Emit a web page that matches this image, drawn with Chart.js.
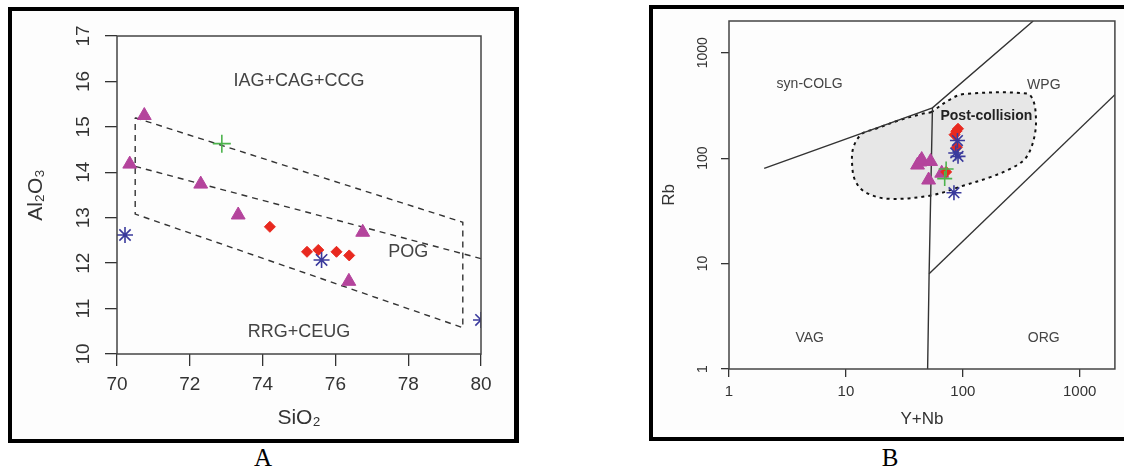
<!DOCTYPE html>
<html>
<head>
<meta charset="utf-8">
<script src="https://cdn.jsdelivr.net/npm/chart.js@4.4.1/dist/chart.umd.min.js"></script>
<style>
  html, body { margin: 0; padding: 0; background: #fff; overflow: hidden; }
  body { width: 1124px; height: 470px; position: relative; }
  .frame { position: absolute; box-sizing: border-box; border: 4px solid #000; background: #fdfdfd; }
  #frameA { left: 8px; top: 7px; width: 511px; height: 436px; border-right-width: 5px; }
  #frameB { left: 649px; top: 5px; width: 490px; height: 436px; }
  .wrap { position: absolute; }
  #wrapA { left: 12px; top: 11px; width: 500px; height: 428px; }
  #wrapB { left: 653px; top: 9px; width: 471px; height: 428px; }
  .caption { position: absolute; top: 444px; font-family: "Liberation Serif", "Times New Roman", serif; font-size: 25px; color: #000; width: 40px; text-align: center; }
</style>
</head>
<body>
<div class="frame" id="frameA"></div>
<div class="frame" id="frameB"></div>
<div class="wrap" id="wrapA"><canvas id="chartA"></canvas></div>
<div class="wrap" id="wrapB"><canvas id="chartB"></canvas></div>
<div class="caption" style="left:243px">A</div>
<div class="caption" style="left:870px">B</div>
<script>
// ---- Panel A: SiO2 vs Al2O3 ----
const xTicksA = [70, 72, 74, 76, 78, 80];
const yTicksA = [10, 11, 12, 13, 14, 15, 16, 17];
const trianglesA = [[70.75, 15.25], [70.35, 14.18], [72.3, 13.74], [73.33, 13.06], [76.75, 12.68], [76.37, 11.6]];
const diamondsA = [[74.2, 12.8], [75.22, 12.25], [75.53, 12.29], [76.03, 12.25], [76.38, 12.17]];
const asterisksA = [[70.22, 12.62], [75.62, 12.07], [80.0, 10.75]];
const plusA = [[72.88, 14.63]];
const pogBox = [[70.5, 15.2], [79.5, 12.9], [79.5, 10.58], [70.5, 13.08], [70.5, 15.2]];
const pogMid = [[70.5, 14.13], [80, 12.1]];
const labelsA = [
  ['IAG+CAG+CCG', 75, 16.0],
  ['POG', 78, 12.24],
  ['RRG+CEUG', 75, 10.48]
];

// ---- Panel B: Y+Nb vs Rb ----
const tickValuesB = [1, 10, 100, 1000];
const trianglesB = [[41, 86], [43, 92], [44.5, 97], [53, 93], [51, 62], [66, 72]];
const diamondsB = [[91, 190], [88, 180], [85, 167], [89, 127], [72, 74]];
const asterisksB = [[90, 147], [87, 112], [91, 104], [84, 47]];
const plusB = [[72, 79], [70, 64]];
const colgLine = [[2, 80], [55, 300], [400, 2000]];
const vagLine = [[55, 300], [51.5, 8], [50, 1]];
const orgLine = [[51.5, 8], [2000, 400]];
const postCollision = [
  [53.5, 272], [79, 364], [102, 406], [352, 411], [401, 351], [422, 244], [414, 170],
  [376, 118], [330, 95], [254, 79], [172, 66], [102, 55], [53.5, 44.3], [23, 41.2],
  [14.6, 47.6], [12, 61.4], [11.3, 88], [11.6, 127], [13.7, 170], [17.8, 189],
  [28, 227], [44, 262], [53.5, 272]
];
const labelsB = [
  ['syn-COLG', 4.9, 505, false],
  ['WPG', 493, 494, false],
  ['Post-collision', 159, 253, true],
  ['VAG', 4.9, 1.98, false],
  ['ORG', 493, 1.98, false]
];

Chart.defaults.font.family = '"Liberation Sans", Arial, sans-serif';
Chart.defaults.color = '#333';

const toXY = arr => arr.map(p => ({x: p[0], y: p[1]}));

const boxPlugin = {
  id: 'plotBox',
  afterDatasetsDraw(chart) {
    const {ctx, chartArea: a} = chart;
    ctx.save();
    ctx.strokeStyle = '#444';
    ctx.lineWidth = 1.5;
    ctx.strokeRect(a.left, a.top, a.right - a.left, a.bottom - a.top);
    ctx.restore();
  }
};

const regionLabels = {
  id: 'regionLabels',
  afterDatasetsDraw(chart, args, opts) {
    const {ctx, scales} = chart;
    ctx.save();
    ctx.textAlign = 'center';
    ctx.textBaseline = 'middle';
    for (const item of opts.items) {
      ctx.font = (item[3] ? 'bold ' : '') + opts.size + 'px "Liberation Sans", Arial, sans-serif';
      ctx.fillStyle = item[3] ? '#222' : '#444';
      ctx.fillText(item[0], scales.x.getPixelForValue(item[1]), scales.y.getPixelForValue(item[2]));
    }
    ctx.restore();
  }
};

function pointSet(data, style, color, radius, order) {
  const stroked = style === 'star' || style === 'cross';
  return {
    data: toXY(data),
    pointStyle: style,
    pointRadius: radius,
    pointBackgroundColor: color,
    pointBorderColor: color,
    pointBorderWidth: stroked ? 1.6 : 1,
    clip: 0,
    order: order
  };
}

function lineSet(data, opts) {
  return Object.assign({
    data: toXY(data),
    showLine: true,
    pointRadius: 0,
    borderColor: '#333',
    borderWidth: 1.4,
    fill: false,
    order: 5
  }, opts);
}

function axisOpts(fontSize, tickLen, pad) {
  return {
    grid: {display: true, drawOnChartArea: false, drawTicks: true, tickLength: tickLen, color: '#333', lineWidth: 1.3},
    border: {display: false},
    ticks: {font: {size: fontSize}, color: '#333', padding: pad, autoSkip: false}
  };
}

const MAGENTA = '#b4449c';
const RED = '#e8291f';
const BLUE = '#3a3a9c';
const GREEN = '#4db34d';

// Panel A chart
const xA = axisOpts(19, 12, 7);
Object.assign(xA, {
  type: 'linear', min: 70, max: 80,
  afterBuildTicks: s => { s.ticks = xTicksA.map(v => ({value: v})); },
  afterFit: s => { s.height = 85; },
  title: {display: true, text: 'SiO₂', font: {size: 21}, color: '#333', padding: {top: 0, bottom: 8}}
});
const yA = axisOpts(19, 12, 11);
Object.assign(yA.ticks, {minRotation: 90, maxRotation: 90, crossAlign: 'center'});
Object.assign(yA, {
  type: 'linear', min: 10, max: 17,
  afterBuildTicks: s => { s.ticks = yTicksA.map(v => ({value: v})); },
  afterFit: s => { s.width = 105; },
  title: {display: true, text: 'Al₂O₃', font: {size: 21}, color: '#333', padding: {top: 12, bottom: 0}}
});

new Chart(document.getElementById('chartA'), {
  type: 'scatter',
  data: {
    datasets: [
      pointSet(plusA, 'cross', GREEN, 9, 0),
      pointSet(asterisksA, 'star', BLUE, 8, 1),
      pointSet(diamondsA, 'rectRot', RED, 5.5, 2),
      pointSet(trianglesA, 'triangle', MAGENTA, 8, 3),
      lineSet(pogBox, {borderDash: [6, 5]}),
      lineSet(pogMid, {borderDash: [6, 5]})
    ]
  },
  options: {
    responsive: true,
    maintainAspectRatio: false,
    animation: false,
    layout: {padding: {top: 25, right: 31, left: 0, bottom: 0}},
    scales: {x: xA, y: yA},
    plugins: {
      legend: {display: false},
      tooltip: {enabled: false},
      regionLabels: {items: labelsA, size: 18}
    }
  },
  plugins: [boxPlugin, regionLabels]
});

// Panel B chart
const xB = axisOpts(15, 8, 6);
Object.assign(xB, {
  type: 'logarithmic', min: 1, max: 2000,
  afterBuildTicks: s => { s.ticks = tickValuesB.map(v => ({value: v})); },
  afterFit: s => { s.height = 68; },
  title: {display: true, text: 'Y+Nb', font: {size: 17}, color: '#333', padding: {top: 0, bottom: 7}}
});
xB.ticks.callback = v => String(v);
const yB = axisOpts(14, 8, 2);
Object.assign(yB.ticks, {minRotation: 90, maxRotation: 90, crossAlign: 'center', callback: v => String(v)});
Object.assign(yB, {
  type: 'logarithmic', min: 1, max: 2000,
  afterBuildTicks: s => { s.ticks = tickValuesB.map(v => ({value: v})); },
  afterFit: s => { s.width = 76; },
  title: {display: true, text: 'Rb', font: {size: 17}, color: '#333', padding: {top: 6, bottom: 0}}
});

new Chart(document.getElementById('chartB'), {
  type: 'scatter',
  data: {
    datasets: [
      pointSet(plusB, 'cross', GREEN, 7.5, 0),
      pointSet(asterisksB, 'star', BLUE, 7.5, 1),
      pointSet(diamondsB, 'rectRot', RED, 5.5, 2),
      pointSet(trianglesB, 'triangle', MAGENTA, 8, 3),
      lineSet(colgLine, {}),
      lineSet(vagLine, {}),
      lineSet(orgLine, {}),
      lineSet(postCollision, {
        fill: 'shape', backgroundColor: '#e7e7e7', borderColor: '#111',
        borderDash: [3, 4], borderWidth: 2, tension: 0.35, order: 6
      })
    ]
  },
  options: {
    responsive: true,
    maintainAspectRatio: false,
    animation: false,
    layout: {padding: {top: 12, right: 5, left: 0, bottom: 0}},
    scales: {x: xB, y: yB},
    plugins: {
      legend: {display: false},
      tooltip: {enabled: false},
      regionLabels: {items: labelsB, size: 14}
    }
  },
  plugins: [boxPlugin, regionLabels]
});
</script>
</body>
</html>
